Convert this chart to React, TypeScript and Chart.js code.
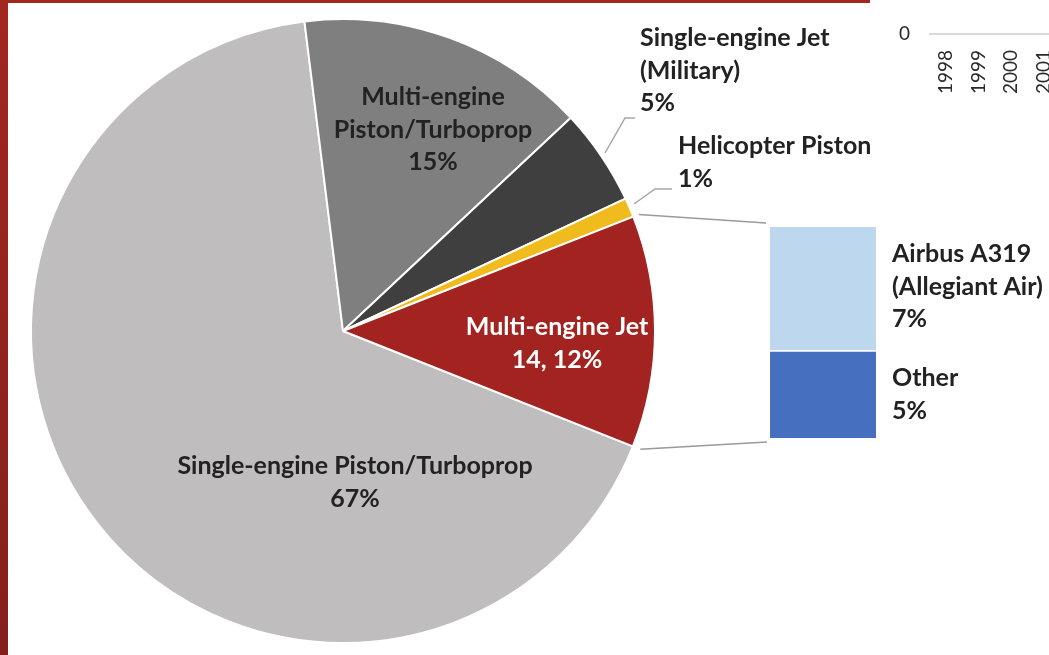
import React, { useEffect, useRef } from "react";
import { Chart, registerables } from "chart.js";

Chart.register(...registerables);
Chart.defaults.font.family = "Lato, 'Open Sans', sans-serif";

// ---------- data ----------
const pieLabels = [
  "Single-engine Piston/Turboprop",
  "Multi-engine Piston/Turboprop",
  "Single-engine Jet (Military)",
  "Helicopter Piston",
  "Multi-engine Jet",
];
const pieValues = [67, 15, 5, 1, 12];
const pieColors = ["#bfbdbe", "#7f7f7f", "#3f3f3f", "#f0bb1d", "#a2231f"];
const pieTextLines = [
  ["Single-engine Piston/Turboprop", "67%"],
  ["Multi-engine", "Piston/Turboprop", "15%"],
  ["Single-engine Jet", "(Military)", "5%"],
  ["Helicopter Piston", "1%"],
  ["Multi-engine Jet", "14, 12%"],
];

const barLabels = ["Other", "Airbus A319 (Allegiant Air)"];
const barValues = [5, 7];
const barColors = ["#4670bf", "#bdd7ee"];
const barTextLines = [
  ["Other", "5%"],
  ["Airbus A319", "(Allegiant Air)", "7%"],
];

const yearLabels = ["1998", "1999", "2000", "2001"];
const yearValues = [0, 0, 0, 0];

// ---------- layout constants ----------
const W = 1049;
const H = 655;
const FONT = "bold 25px Lato, 'Open Sans', sans-serif";
const TEXT = "#222222";
const LEADER = "#a6a6a6";

// label anchor: [x, firstLineY, align, color]
const pieTextPos: [number, number, CanvasTextAlign, string][] = [
  [355, 466, "center", TEXT],
  [433, 97, "center", TEXT],
  [640, 38, "left", TEXT],
  [678, 146, "left", TEXT],
  [557, 327, "center", "#ffffff"],
];
const LINE_H = 32.5;

const piePlugin = {
  id: "pieDecor",
  afterDraw(chart: any) {
    const ctx = chart.ctx as CanvasRenderingContext2D;
    ctx.save();
    // red frame
    const g = ctx.createLinearGradient(0, 0, 0, H);
    g.addColorStop(0, "#a2271f");
    g.addColorStop(1, "#851f1c");
    ctx.fillStyle = g;
    ctx.fillRect(0, 0, 8, H);
    ctx.fillStyle = "#a2271f";
    ctx.fillRect(0, 0, 870, 3);

    // leader lines
    ctx.strokeStyle = LEADER;
    ctx.lineWidth = 1.5;
    ctx.beginPath();
    ctx.moveTo(605, 153);
    ctx.lineTo(625, 118);
    ctx.lineTo(635, 118);
    ctx.moveTo(634, 204);
    ctx.lineTo(655, 189);
    ctx.lineTo(672, 189);
    ctx.stroke();

    // labels
    ctx.font = FONT;
    ctx.textBaseline = "middle";
    pieTextLines.forEach((lines, i) => {
      const [x, y, align, color] = pieTextPos[i];
      ctx.textAlign = align;
      ctx.fillStyle = color;
      lines.forEach((t, j) => ctx.fillText(t, x, y + j * LINE_H));
    });
    ctx.restore();
  },
};

const barTextPos: [number, number][] = [
  [892, 378],
  [892, 254],
];

function makeBarPlugin(pie: Chart) {
  return {
    id: "barDecor",
    afterDraw(chart: any) {
      const ctx = chart.ctx as CanvasRenderingContext2D;
      const arc: any = pie.getDatasetMeta(0).data[4];
      const p = arc.getProps(["x", "y", "startAngle", "endAngle", "outerRadius"], true);
      const other: any = chart.getDatasetMeta(0).data[0];
      const airbus: any = chart.getDatasetMeta(1).data[0];
      const left = airbus.x - airbus.width / 2;
      const top = airbus.y;
      const bottom = other.base;
      ctx.save();
      ctx.strokeStyle = "#9a9a9a";
      ctx.lineWidth = 1.5;
      ctx.beginPath();
      ctx.moveTo(p.x + (p.outerRadius + 6) * Math.cos(p.startAngle), p.y + (p.outerRadius + 6) * Math.sin(p.startAngle));
      ctx.lineTo(left - 4, top - 4);
      ctx.moveTo(p.x + (p.outerRadius + 8) * Math.cos(p.endAngle), p.y + (p.outerRadius + 8) * Math.sin(p.endAngle));
      ctx.lineTo(left - 3, bottom + 4);
      ctx.stroke();

      ctx.font = FONT;
      ctx.textBaseline = "middle";
      ctx.textAlign = "left";
      ctx.fillStyle = TEXT;
      barTextLines.forEach((lines, i) => {
        const [x, y] = barTextPos[i];
        lines.forEach((t, j) => ctx.fillText(t, x, y + j * LINE_H));
      });
      ctx.restore();
    },
  };
}

export default function App() {
  const pieRef = useRef<HTMLCanvasElement>(null);
  const barRef = useRef<HTMLCanvasElement>(null);
  const yearRef = useRef<HTMLCanvasElement>(null);

  useEffect(() => {
    const pie = new Chart(pieRef.current!, {
      type: "pie",
      data: {
        labels: pieLabels,
        datasets: [
          {
            data: pieValues,
            backgroundColor: pieColors,
            borderColor: "#ffffff",
            borderWidth: 2,
          },
        ],
      },
      options: {
        responsive: false,
        animation: false,
        rotation: 111.7,
        layout: { padding: { left: 30, top: 18, right: W - 30 - 626, bottom: H - 18 - 626 } },
        plugins: { legend: { display: false }, tooltip: { enabled: false } },
      },
      plugins: [piePlugin],
    });

    const bar = new Chart(barRef.current!, {
      type: "bar",
      data: {
        labels: ["Multi-engine Jet"],
        datasets: barLabels.map((l, i) => ({
          label: l,
          data: [barValues[i]],
          backgroundColor: barColors[i],
          borderColor: "#ffffff",
          borderWidth: i === 0 ? { top: 2, left: 0, right: 0, bottom: 0 } : 0,
          borderSkipped: false,
          categoryPercentage: 1,
          barPercentage: 1,
        })),
      },
      options: {
        responsive: false,
        animation: false,
        layout: { padding: { left: 770, right: W - 876, top: 227, bottom: H - 438 } },
        plugins: { legend: { display: false }, tooltip: { enabled: false } },
        scales: {
          x: { display: false, stacked: true },
          y: { display: false, stacked: true, min: 0, max: 12 },
        },
      },
      plugins: [makeBarPlugin(pie)],
    });

    const year = new Chart(yearRef.current!, {
      type: "bar",
      data: {
        labels: yearLabels,
        datasets: [{ data: yearValues, backgroundColor: "#a5a5a5" }],
      },
      options: {
        responsive: false,
        animation: false,
        layout: { padding: { left: 0, right: 50, top: 0, bottom: 0 } },
        plugins: { legend: { display: false }, tooltip: { enabled: false } },
        scales: {
          x: {
            grid: { display: false, drawTicks: false },
            border: { display: true, color: "#d9d9d9", width: 2 },
            ticks: { minRotation: 90, maxRotation: 90, padding: 16, color: "#2a2a2a", font: { size: 19 } },
            afterFit: (s: any) => {
              s.height = 66;
            },
          },
          y: {
            min: 0,
            max: 10,
            grid: { display: false, drawTicks: false },
            border: { display: false },
            ticks: { stepSize: 10, padding: 20, color: "#2a2a2a", font: { size: 19 } },
            afterFit: (s: any) => {
              s.width = 70;
            },
          },
        },
      },
    });

    return () => {
      pie.destroy();
      bar.destroy();
      year.destroy();
    };
  }, []);

  return (
    <div
      style={{
        position: "fixed",
        left: 0,
        top: 0,
        width: W,
        height: H,
        overflow: "hidden",
        background: "#ffffff",
      }}
    >
      <canvas ref={yearRef} width={250} height={200} style={{ position: "absolute", left: 860, top: -100, width: 250, height: 200 }} />
      <canvas ref={pieRef} width={W} height={H} style={{ position: "absolute", left: 0, top: 0, width: W, height: H }} />
      <canvas ref={barRef} width={W} height={H} style={{ position: "absolute", left: 0, top: 0, width: W, height: H }} />
    </div>
  );
}
